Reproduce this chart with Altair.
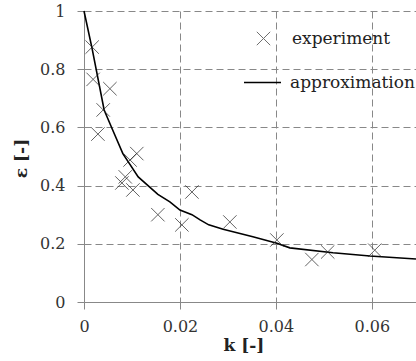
import altair as alt
import pandas as pd

# experimental points
exp_k = [0.0017, 0.0019, 0.0029, 0.0040, 0.0054, 0.0079, 0.0086, 0.0096, 0.0102, 0.0110,
         0.0154, 0.0204, 0.0225, 0.0304, 0.0402, 0.0475, 0.0508, 0.0606]
exp_eps = [0.876, 0.765, 0.577, 0.660, 0.733, 0.409, 0.430, 0.488, 0.385, 0.510,
           0.300, 0.265, 0.378, 0.275, 0.213, 0.146, 0.172, 0.178]

# approximation curve
apx_k = [0.0, 0.0017, 0.0042, 0.0060, 0.0081, 0.0113, 0.0154, 0.0179, 0.0200, 0.0225,
         0.0242, 0.0260, 0.0290, 0.0352, 0.0402, 0.0429, 0.0519, 0.0596, 0.0692]
apx_eps = [1.0, 0.870, 0.660, 0.590, 0.510, 0.430, 0.370, 0.344, 0.316, 0.300,
           0.282, 0.265, 0.250, 0.224, 0.202, 0.186, 0.169, 0.158, 0.148]

x_ticks = [0, 0.02, 0.04, 0.06]
y_ticks = [0, 0.2, 0.4, 0.6, 0.8, 1.0]

df_exp = pd.DataFrame({"k": exp_k, "eps": exp_eps, "series": "experiment"})
df_apx = pd.DataFrame({"k": apx_k, "eps": apx_eps, "series": "approximation"})

FONT = "DejaVu Serif"
XPATH = "M-1,-1L1,1M-1,1L1,-1"

xscale = alt.Scale(domain=[0, 0.0692], nice=False)
yscale = alt.Scale(domain=[0, 1], nice=False)

xaxis = alt.Axis(values=x_ticks, format="~g", title="k [-]", titleFont=FONT,
                 titleFontSize=17, titleFontWeight="bold", titleColor="#222",
                 titleAnchor="start", titleX=139, titleY=48, titleBaseline="alphabetic",
                 labelFont=FONT, labelFontSize=16, labelColor="#333", labelPadding=9,
                 tickSize=7, tickColor="#888", domainColor="#888",
                 gridColor="#888", gridDash=[7, 4], gridWidth=1, labelFlush=False)
yaxis = alt.Axis(values=y_ticks, format="~g", title="ε [-]", titleFont=FONT,
                 titleFontSize=17, titleFontWeight="bold", titleColor="#222",
                 titleX=-58, titleY=147, titleBaseline="alphabetic", titleAngle=270,
                 titleAnchor="middle",
                 labelFont=FONT, labelFontSize=16, labelColor="#333", labelPadding=12,
                 tickSize=7, tickColor="#888", domainColor="#888",
                 gridColor="#888", gridDash=[7, 4], gridWidth=1, labelFlush=False)

pts = alt.Chart(df_exp).mark_point(filled=False, stroke="#222", strokeWidth=1, size=180).encode(
    x=alt.X("k:Q", scale=xscale, axis=xaxis),
    y=alt.Y("eps:Q", scale=yscale, axis=yaxis),
    shape=alt.Shape("series:N",
                    scale=alt.Scale(domain=["experiment"], range=[XPATH]),
                    legend=alt.Legend(orient="none", legendX=171, legendY=19, title=None,
                                      padding=0, labelFont=FONT, labelFontSize=17,
                                      labelColor="#222", labelOffset=20, symbolSize=180,
                                      symbolStrokeColor="#333", symbolFillColor="transparent",
                                      symbolStrokeWidth=1)),
)

line = alt.Chart(df_apx).mark_line(color="black", strokeWidth=1.6).encode(
    x=alt.X("k:Q", scale=xscale, axis=xaxis, sort=None),
    y=alt.Y("eps:Q", scale=yscale, axis=yaxis),
    color=alt.Color("series:N",
                    scale=alt.Scale(domain=["approximation"], range=["black"]),
                    legend=alt.Legend(orient="none", legendX=159, legendY=52, title=None,
                                      padding=0, labelFont=FONT, labelFontSize=17,
                                      labelColor="#222", labelOffset=8, symbolSize=1369,
                                      symbolType="stroke", symbolStrokeWidth=1.6)),
)

chart = alt.layer(line, pts).resolve_legend(color="independent", shape="independent").properties(
    width=332, height=291,
    autosize=alt.AutoSizeParams(type="none"),
    padding={"left": 84, "top": 11, "right": 0, "bottom": 59},
    background="white",
).configure_view(stroke=None)

chart.save("out.html", embed_options={"renderer": "svg", "actions": False})
